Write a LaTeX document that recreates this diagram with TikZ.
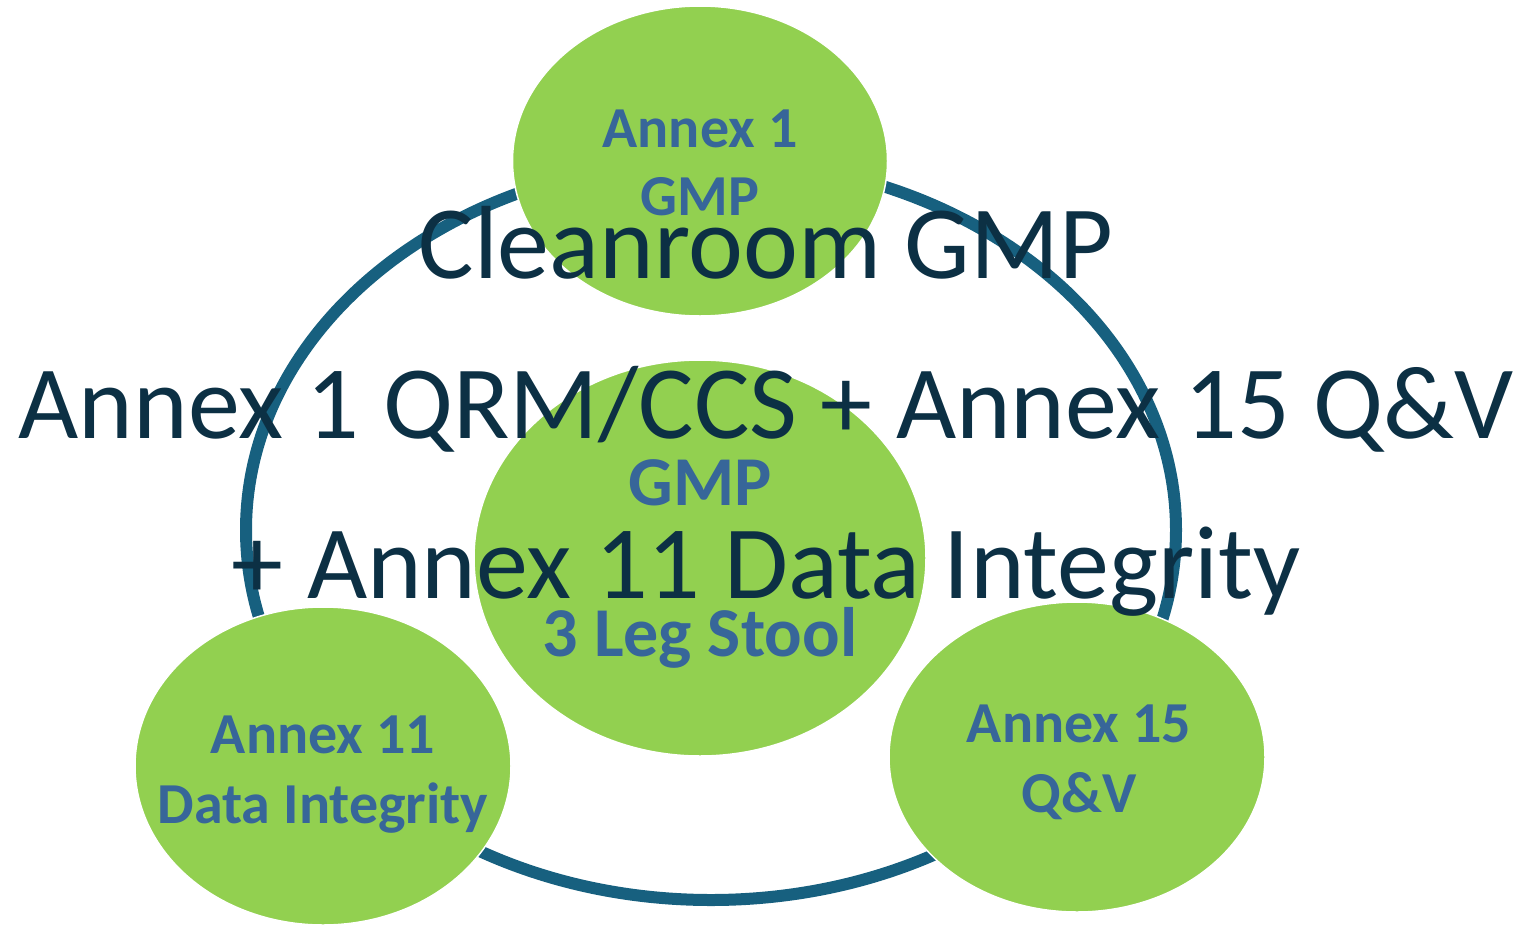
\documentclass[tikz,border=0pt]{standalone}
\usepackage{fontspec}
\setmainfont{Carlito}
\usetikzlibrary{shapes.geometric}
\definecolor{leafgreen}{HTML}{92D050}
\definecolor{ringblue}{HTML}{17607F}
\definecolor{labelblue}{HTML}{376699}
\definecolor{titleink}{HTML}{0C3044}
\tikzset{
  pillar/.style={ellipse, fill=leafgreen, draw=white, line width=1.5pt, inner sep=0pt},
  pillartext/.style={anchor=base, text=labelblue, font=\fontsize{58}{68}\selectfont\bfseries, inner sep=0pt},
  coretext/.style={anchor=base, text=labelblue, font=\fontsize{70}{80}\selectfont\bfseries, inner sep=0pt},
  headline/.style={anchor=base, text=titleink, font=\fontsize{104}{160}\selectfont, inner sep=0pt},
}
\begin{document}
\begin{tikzpicture}[x=1pt, y=-1pt]
  \useasboundingbox (0,0) rectangle (1526,927);
  % connecting ring
  \draw[ringblue, line width=12pt] (711,530) ellipse [x radius=465, y radius=370];
  % the pillars
  \node[pillar, minimum width=375pt, minimum height=310pt] (top) at (700,161) {};
  \node[pillar, minimum width=452pt, minimum height=396pt] (core) at (700,558) {};
  \node[pillar, minimum width=376pt, minimum height=318pt] (left) at (323,766) {};
  \node[pillar, minimum width=376pt, minimum height=310pt] (right) at (1077,757) {};
  % pillar labels
  \node[pillartext] (topA) at (700,147) {Annex 1};
  \node[pillartext] (topB) at (700,215) {GMP};
  \node[coretext] (coreA) at (700,505) {GMP};
  \node[coretext] (coreB) at (700,656) {3 Leg Stool};
  \node[pillartext] (leftA) at (323,753) {Annex 11};
  \node[pillartext] (leftB) at (323,823) {Data Integrity};
  \node[pillartext] (rightA) at (1079,742) {Annex 15};
  \node[pillartext] (rightB) at (1079,812) {Q\&V};
  % title lines
  \node[headline] (lineA) at (766,278) {Cleanroom GMP};
  \node[headline] (lineB) at (766,438) {Annex 1 QRM/CCS + Annex 15 Q\&V};
  \node[headline] (lineC) at (766,598) {+ Annex 11 Data Integrity};
\end{tikzpicture}
\end{document}
